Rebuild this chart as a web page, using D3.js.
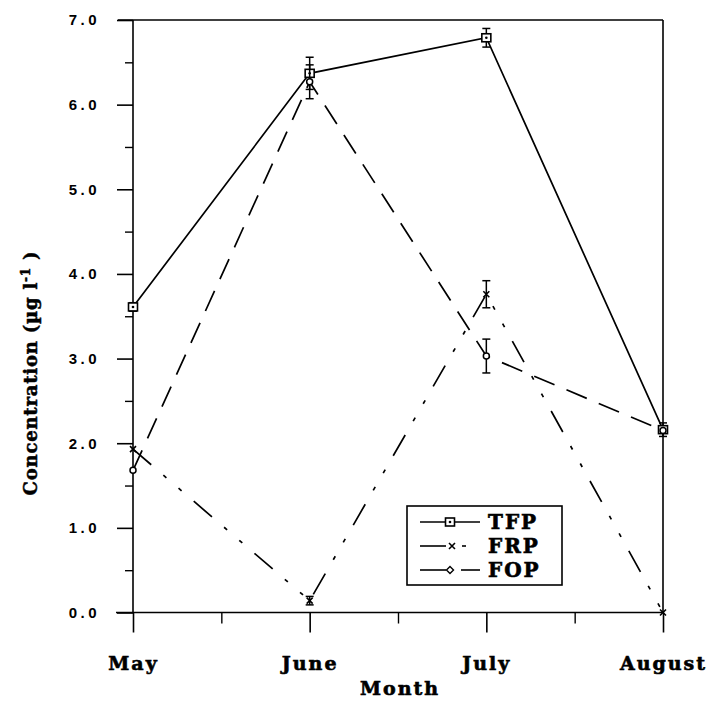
<!DOCTYPE html>
<html><head><meta charset="utf-8">
<script src="https://cdn.jsdelivr.net/npm/d3@7"></script>
<style>
body{margin:0;background:#fff;}
svg{display:block;}
.ylab text{font-family:"Liberation Sans",Arial,sans-serif;font-weight:bold;}
.serif{font-family:"DejaVu Serif","Liberation Serif",serif;font-weight:bold;}
</style></head>
<body>
<svg id="c" width="710" height="723"></svg>
<script>
const months = ["May","June","July","August"];
const TFP = [3.61, 6.37, 6.79, 2.16];
const TFPerr = [0.05, 0.19, 0.11, 0.08];
const FRP = [1.93, 0.14, 3.76, 0.0];
const FRPerr = [0, 0.05, 0.16, 0];
const FOP = [1.68, 6.27, 3.03, 2.15];
const FOPerr = [0, 0.2, 0.2, 0];
const yMajor = [0,1,2,3,4,5,6,7];
const yMinor = [0.5,1.5,2.5,3.5,4.5,5.5,6.5];
const xMinor = [0.5,1.5,2.5];

const svg = d3.select("#c");
const L=133, R=663, T=20, B=612.5;
const xi = d3.scaleLinear().domain([0,3]).range([L,R]);
const xp = d3.scalePoint().domain(months).range([L,R]);
const y = d3.scaleLinear().domain([0,7]).range([B,T]);

// frame
const fr = svg.append("g").attr("stroke","#000").attr("stroke-width",1.6).attr("fill","none");
fr.append("line").attr("x1",118).attr("x2",R).attr("y1",T).attr("y2",T);
fr.append("line").attr("x1",R).attr("x2",R).attr("y1",T).attr("y2",B);
fr.append("line").attr("x1",116).attr("x2",R).attr("y1",B).attr("y2",B);
fr.append("line").attr("x1",L).attr("x2",L).attr("y1",T).attr("y2",B);

// y axis
const ya = svg.append("g").attr("class","ylab").attr("transform",`translate(${L},0)`)
  .call(d3.axisLeft(y).tickValues(yMajor).tickSize(16).tickPadding(20).tickFormat(d3.format(".1f")));
ya.select(".domain").remove();
ya.selectAll(".tick line").attr("stroke-width",1.6);
ya.selectAll(".tick text").attr("font-size",15).attr("letter-spacing","3.5px").attr("dx","3px");
const ym = svg.append("g").attr("transform",`translate(${L},0)`)
  .call(d3.axisLeft(y).tickValues(yMinor).tickSize(8).tickFormat(""));
ym.select(".domain").remove();
ym.selectAll(".tick line").attr("stroke-width",1.4);

// x axis
const xa = svg.append("g").attr("transform",`translate(0,${B})`)
  .call(d3.axisBottom(xp).tickSize(20).tickPadding(24));
xa.select(".domain").remove();
xa.selectAll(".tick line").attr("stroke-width",1.6);
xa.selectAll(".tick text").attr("class","serif").attr("font-size",19)
  .attr("letter-spacing","2px").attr("stroke","#000").attr("stroke-width",0.6);
const xm = svg.append("g").attr("transform",`translate(0,${B})`)
  .call(d3.axisBottom(xi).tickValues(xMinor).tickSize(11).tickFormat(""));
xm.select(".domain").remove();
xm.selectAll(".tick line").attr("stroke-width",1.4);

// axis titles
svg.append("text").attr("class","serif").attr("x",400).attr("y",695).attr("text-anchor","middle")
  .attr("font-size",19).attr("letter-spacing","2px").attr("stroke","#000").attr("stroke-width",0.6)
  .text("Month");
const yt = svg.append("text").attr("class","serif").attr("transform","translate(37,373) rotate(-90)")
  .attr("text-anchor","middle").attr("font-size",18).attr("letter-spacing","0.8px")
  .attr("stroke","#000").attr("stroke-width",0.5);
yt.append("tspan").text("Concentration (µg l");
yt.append("tspan").attr("dy",-7).attr("font-size",12).text("-1");
yt.append("tspan").attr("dy",7).text(" )");

// series
const series = [
  {name:"TFP", v:TFP, e:TFPerr, dash:null},
  {name:"FRP", v:FRP, e:FRPerr, dash:"24,16,4,16,4,16"},
  {name:"FOP", v:FOP, e:FOPerr, dash:"22,13"}
];
const line = d3.line().x((d,i)=>xi(i)).y(d=>y(d));
series.forEach(s=>{
  svg.append("path").datum(s.v).attr("d",line).attr("fill","none").attr("stroke","#000")
    .attr("stroke-width",1.7).attr("stroke-dasharray",s.dash);
});

function marker(g, name, cx, cy){
  if(name==="TFP"){
    g.append("rect").attr("x",cx-4.5).attr("y",cy-4).attr("width",9).attr("height",8)
      .attr("fill","#fff").attr("stroke","#000").attr("stroke-width",1.6);
    g.append("circle").attr("cx",cx).attr("cy",cy).attr("r",1.3).attr("fill","#000");
  } else if(name==="FRP"){
    g.append("path").attr("d",`M${cx-3},${cy-3}L${cx+3},${cy+3}M${cx-3},${cy+3}L${cx+3},${cy-3}`)
      .attr("stroke","#000").attr("stroke-width",1.6);
  } else {
    g.append("circle").attr("cx",cx).attr("cy",cy).attr("r",3)
      .attr("fill","#fff").attr("stroke","#000").attr("stroke-width",1.5);
  }
}

// error bars and markers
series.forEach(s=>{
  const g = svg.append("g");
  s.v.forEach((v,i)=>{
    const e=s.e[i]; const cx=xi(i);
    if(e>0){
      g.append("line").attr("x1",cx).attr("x2",cx).attr("y1",y(v-e)).attr("y2",y(v+e)).attr("stroke","#000").attr("stroke-width",1.5);
      [v-e,v+e].forEach(w=>g.append("line").attr("x1",cx-4).attr("x2",cx+4).attr("y1",y(w)).attr("y2",y(w)).attr("stroke","#000").attr("stroke-width",1.5));
    }
    marker(g,s.name,cx,y(v));
  });
});

// legend
const lg = svg.append("g");
lg.append("rect").attr("x",407).attr("y",506).attr("width",155).attr("height",79)
  .attr("fill","#fff").attr("stroke","#000").attr("stroke-width",1.6);
const rows=[522,546,570];
series.forEach((s,k)=>{
  const yy=rows[k];
  if(s.name==="TFP"){
    lg.append("line").attr("x1",420).attr("x2",480).attr("y1",yy).attr("y2",yy).attr("stroke","#000").attr("stroke-width",1.6);
    marker(lg,"TFP",450,yy);
  } else if(s.name==="FRP"){
    lg.append("line").attr("x1",420).attr("x2",446).attr("y1",yy).attr("y2",yy).attr("stroke","#000").attr("stroke-width",1.6);
    lg.append("line").attr("x1",462).attr("x2",466).attr("y1",yy).attr("y2",yy).attr("stroke","#000").attr("stroke-width",1.6);
    marker(lg,"FRP",452,yy);
  } else {
    lg.append("line").attr("x1",420).attr("x2",446).attr("y1",yy).attr("y2",yy).attr("stroke","#000").attr("stroke-width",1.6);
    lg.append("line").attr("x1",461).attr("x2",480).attr("y1",yy).attr("y2",yy).attr("stroke","#000").attr("stroke-width",1.6);
    lg.append("path").attr("d",`M450,${yy-3.5}L453.5,${yy}L450,${yy+3.5}L446.5,${yy}Z`)
      .attr("fill","#fff").attr("stroke","#000").attr("stroke-width",1.4);
  }
  lg.append("text").attr("class","serif").attr("x",488).attr("y",yy).attr("dy","0.36em")
    .attr("font-size",20).attr("letter-spacing","2px").attr("stroke","#000").attr("stroke-width",0.6)
    .text(s.name);
});
</script>
</body></html>
